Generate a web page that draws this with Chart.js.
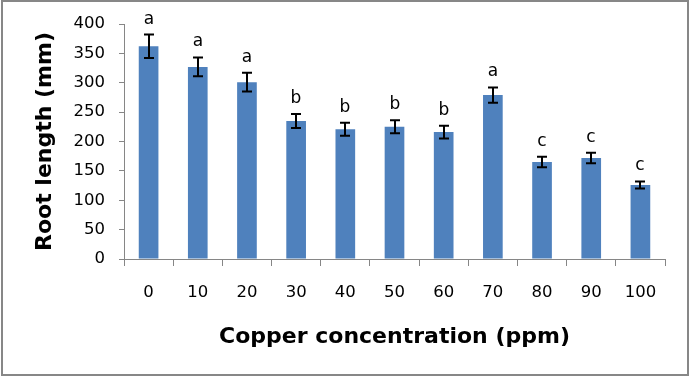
<!DOCTYPE html>
<html>
<head>
<meta charset="utf-8">
<script src="https://cdn.jsdelivr.net/npm/chart.js@4"></script>
<style>
  body { margin: 0; background: #fff; }
  canvas { display: block; }
</style>
</head>
<body>
<canvas id="rootChart" width="689" height="376"></canvas>
<script>
// datos
const concentrations = ["0", "10", "20", "30", "40", "50", "60", "70", "80", "90", "100"];
const rootLength = [362, 327, 301, 235, 221, 225, 216, 279, 165, 172, 126];
const stdError = [20, 16, 16, 12, 11, 11, 11, 13, 9, 9, 6];
const groups = ["a", "a", "a", "b", "b", "b", "b", "a", "c", "c", "c"];
const yTicks = [0, 50, 100, 150, 200, 250, 300, 350, 400];

// barras de error y letras encima
const errorBars = {
  id: "errorBars",
  afterDatasetsDraw(chart) {
    const ctx = chart.ctx;
    const meta = chart.getDatasetMeta(0);
    const yScale = chart.scales.y;
    ctx.save();
    ctx.strokeStyle = "#000";
    ctx.lineWidth = 2;
    meta.data.forEach(function (bar, i) {
      const x = Math.round(bar.x);
      const top = yScale.getPixelForValue(rootLength[i] + stdError[i]);
      const bottom = yScale.getPixelForValue(rootLength[i] - stdError[i]);
      ctx.beginPath();
      ctx.moveTo(x, top);
      ctx.lineTo(x, bottom);
      ctx.moveTo(x - 5, top);
      ctx.lineTo(x + 5, top);
      ctx.moveTo(x - 5, bottom);
      ctx.lineTo(x + 5, bottom);
      ctx.stroke();

      ctx.fillStyle = "#000";
      ctx.font = "17px 'DejaVu Sans'";
      ctx.textAlign = "center";
      ctx.textBaseline = "alphabetic";
      ctx.fillText(groups[i], x, top - 11);
    });
    ctx.restore();
  },
};

// fondo blanco y marco gris
const frame = {
  id: "frame",
  beforeDraw(chart) {
    const ctx = chart.ctx;
    ctx.save();
    ctx.fillStyle = "#fff";
    ctx.fillRect(0, 0, chart.width, chart.height);
    ctx.restore();
  },
  afterDraw(chart) {
    const ctx = chart.ctx;
    ctx.save();
    ctx.strokeStyle = "#878787";
    ctx.lineWidth = 2;
    ctx.strokeRect(2, 1, chart.width - 3, chart.height - 2);
    ctx.restore();
  },
};

const ctx = document.getElementById("rootChart").getContext("2d");

const rootChart = new Chart(ctx, {
  type: "bar",
  data: {
    labels: concentrations,
    datasets: [
      {
        data: rootLength,
        backgroundColor: "#4F81BD",
        borderWidth: 0,
        barPercentage: 0.4,
        categoryPercentage: 1,
      },
    ],
  },
  options: {
    responsive: false,
    animation: false,
    layout: { padding: { top: 24, right: 24, left: 0, bottom: 0 } },
    plugins: {
      legend: { display: false },
      tooltip: { enabled: false },
    },
    scales: {
      x: {
        grid: {
          display: true,
          drawOnChartArea: false,
          drawTicks: true,
          tickLength: 7,
          color: "#868686",
          offset: true,
        },
        border: { color: "#868686" },
        ticks: {
          color: "#000",
          padding: 17,
          font: { family: "DejaVu Sans", size: 16.5 },
        },
        title: {
          display: true,
          text: "Copper concentration (ppm)",
          color: "#000",
          font: { family: "DejaVu Sans", size: 22, weight: "bold" },
          padding: { top: 0, bottom: 26 },
        },
        afterFit: function (scale) {
          scale.height = 117;
        },
      },
      y: {
        min: 0,
        max: 400,
        afterBuildTicks: function (scale) {
          scale.ticks = yTicks.map(function (v) { return { value: v }; });
        },
        grid: {
          display: true,
          drawOnChartArea: false,
          drawTicks: true,
          tickLength: 5,
          color: "#868686",
        },
        border: { color: "#868686" },
        ticks: {
          color: "#000",
          padding: 14,
          font: { family: "DejaVu Sans", size: 16.5 },
        },
        title: {
          display: true,
          text: "Root length (mm)",
          color: "#000",
          font: { family: "DejaVu Sans", size: 22, weight: "bold" },
          padding: { top: 32, bottom: 0 },
        },
        afterFit: function (scale) {
          scale.width = 124;
        },
      },
    },
  },
  plugins: [frame, errorBars],
});
</script>
</body>
</html>
